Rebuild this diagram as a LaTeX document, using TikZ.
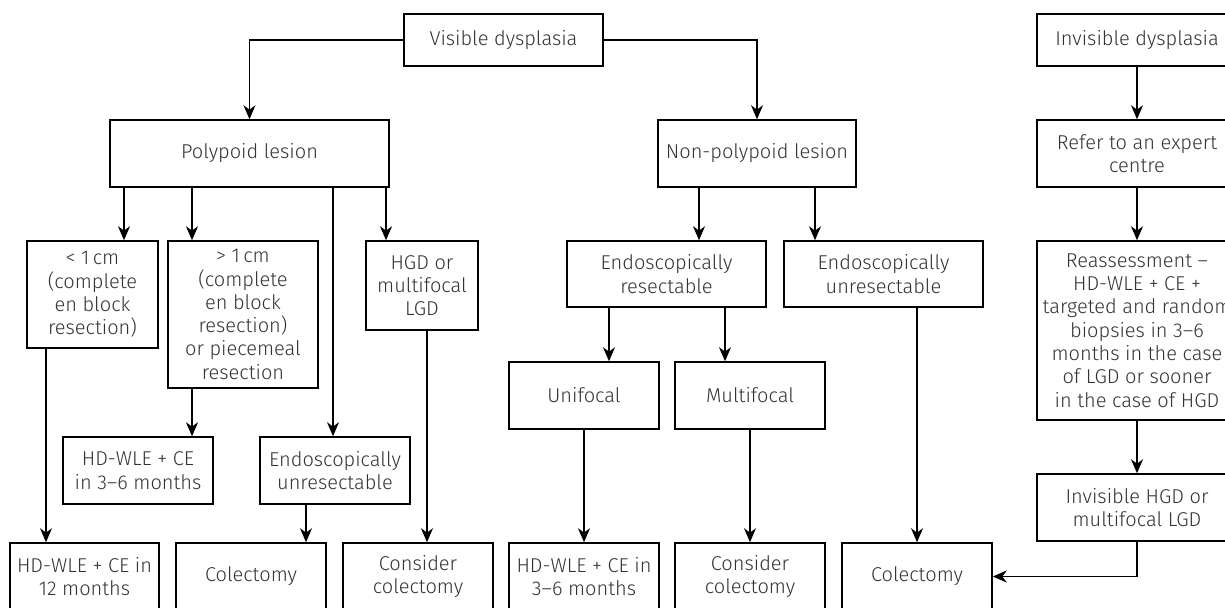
\documentclass[tikz,border=0pt]{standalone}
\usepackage{fontspec}
\setmainfont{Fira Sans}[UprightFont=* Light]
\usetikzlibrary{arrows.meta}
\definecolor{txt}{gray}{0.2}
\tikzset{
  box/.style={draw, line width=0.75pt, align=center, inner sep=0pt,
    text=txt, font=\fontsize{10pt}{11.65pt}\selectfont},
  wh/.style 2 args={minimum width=#1*0.5pt, minimum height=#2*0.5pt},
  arr/.style={line width=0.75pt, -{Stealth[length=7pt,width=6pt,inset=2.2pt]}},
  ln/.style={line width=0.75pt}
}
\begin{document}
\begin{tikzpicture}[x=0.5pt,y=-0.5pt]
\clip (0,0) rectangle (1225,608);
\fill[white] (0,0) rectangle (1225,608);
% top row
\node[box,wh={199}{52}] (vis) at (503.5,40) {Visible dysplasia};
\node[box,wh={200}{52}] (invis) at (1137,40) {Invisible dysplasia};
% second row
\node[box,wh={279}{67}] (poly) at (249.5,153.5) {Polypoid lesion};
\node[box,wh={198}{67}] (nonpoly) at (757,153.5) {Non-polypoid lesion};
\node[box,wh={200}{67}] (refer) at (1137,153.5) {Refer to an expert\\centre};
% third row
\node[box,wh={131}{107}] (lt1) at (92.5,294.5) {< 1\,cm\\(complete\\en block\\resection)};
\node[box,wh={150}{147}] (gt1) at (243,314.5) {> 1\,cm\\(complete\\en block\\resection)\\or piecemeal\\resection};
\node[box,wh={112}{89}] (hgd) at (422,285.5) {HGD or\\multifocal\\LGD};
\node[box,wh={199}{66}] (eres) at (666.5,274) {Endoscopically\\resectable};
\node[box,wh={199}{66}] (eunres2) at (883.5,274) {Endoscopically\\unresectable};
\node[box,wh={200}{179}] (reass) at (1137,330.5) {Reassessment –\\HD-WLE + CE +\\targeted and random\\biopsies in 3–6\\months in the case\\of LGD or sooner\\in the case of HGD};
% fourth row
\node[box,wh={150}{67}] (uni) at (584,395.5) {Unifocal};
\node[box,wh={150}{67}] (multi) at (750,395.5) {Multifocal};
\node[box,wh={150}{67}] (hd36a) at (138,470.5) {HD-WLE + CE\\in 3–6 months};
\node[box,wh={150}{67}] (eunres1) at (335,470.5) {Endoscopically\\unresectable};
\node[box,wh={200}{67}] (invhgd) at (1137,507.5) {Invisible HGD or\\multifocal LGD};
% bottom row
\node[box,wh={149}{67}] (b1) at (84.5,576.5) {HD-WLE + CE in\\12 months};
\node[box,wh={150}{67}] (b2) at (251,576.5) {Colectomy};
\node[box,wh={150}{67}] (b3) at (418,576.5) {Consider\\colectomy};
\node[box,wh={150}{67}] (b4) at (584,576.5) {HD-WLE + CE in\\3–6 months};
\node[box,wh={150}{67}] (b5) at (750,576.5) {Consider\\colectomy};
\node[box,wh={150}{67}] (b6) at (917,576.5) {Colectomy};
% connectors
\draw[arr] (vis.west) -| (poly.north);
\draw[arr] (vis.east) -| (nonpoly.north);
\draw[arr] (invis) -- (refer);
\draw[arr] (refer) -- (reass);
\draw[arr] (reass) -- (invhgd);
\draw[arr] (invhgd.south) |- (b6.east);
\draw[arr] (poly.south -| 124,0) -- (lt1.north -| 124,0);
\draw[arr] (poly.south -| 192,0) -- (gt1.north -| 192,0);
\draw[arr] (poly.south -| 333,0) -- (eunres1.north -| 333,0);
\draw[arr] (poly.south -| 386,0) -- (hgd.north -| 386,0);
\draw[arr] (lt1.south -| 46,0) -- (b1.north -| 46,0);
\draw[arr] (gt1.south -| 192,0) -- (hd36a.north -| 192,0);
\draw[arr] (eunres1.south -| 306,0) -- (b2.north -| 306,0);
\draw[arr] (hgd.south -| 427,0) -- (b3.north -| 427,0);
\draw[arr] (nonpoly.south -| 699,0) -- (eres.north -| 699,0);
\draw[arr] (nonpoly.south -| 815,0) -- (eunres2.north -| 815,0);
\draw[arr] (eres.south -| 609,0) -- (uni.north -| 609,0);
\draw[arr] (eres.south -| 725,0) -- (multi.north -| 725,0);
\draw[arr] (uni) -- (b4);
\draw[arr] (multi) -- (b5);
\draw[arr] (eunres2.south -| b6.north) -- (b6.north);
\end{tikzpicture}
\end{document}
